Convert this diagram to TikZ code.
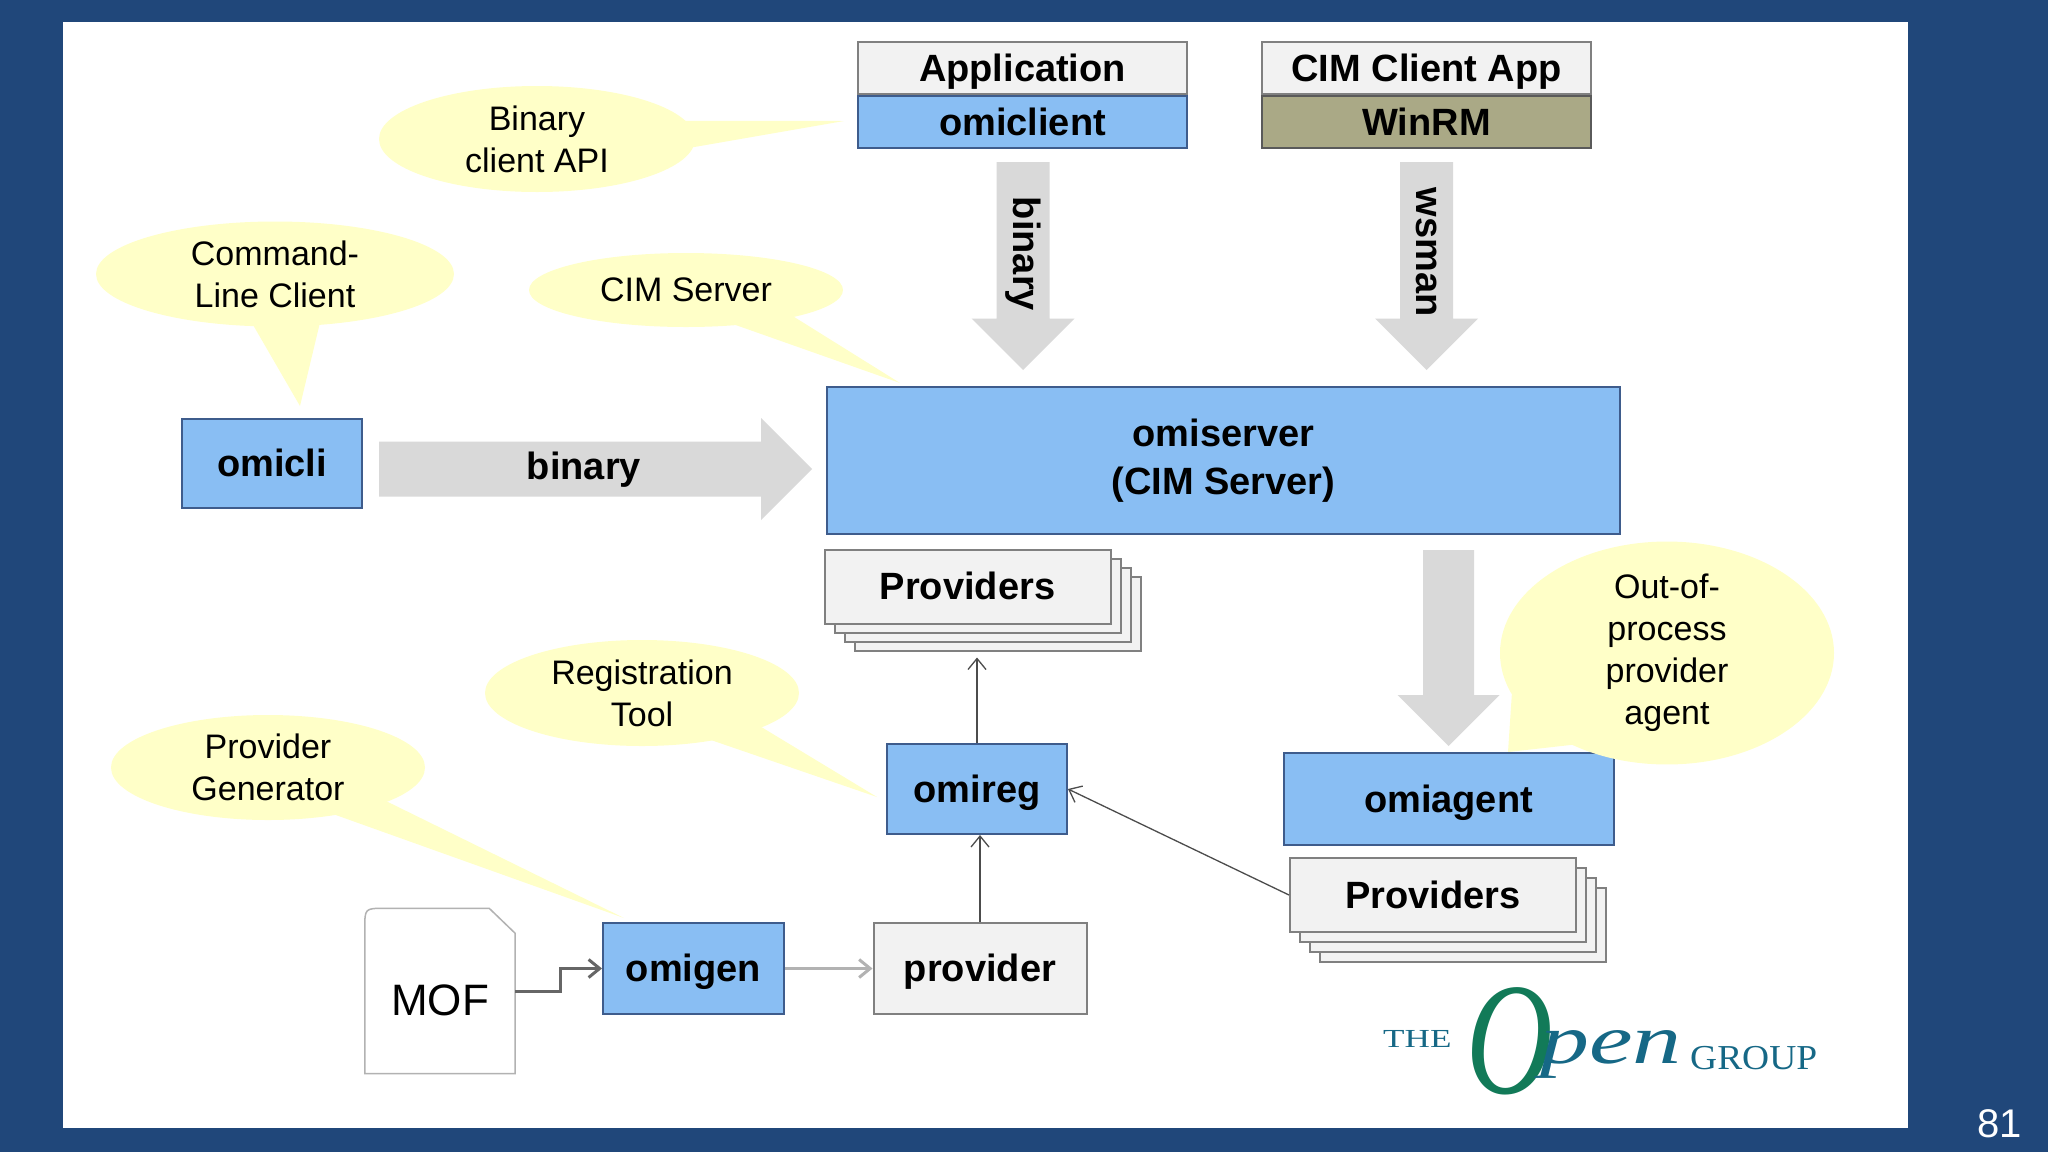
\documentclass[tikz,border=0pt]{standalone}
\usepackage{fontspec}
\setmainfont{Liberation Sans}
\newfontfamily\logofont{Liberation Serif}
\usetikzlibrary{positioning,shapes.geometric,arrows.meta}
\definecolor{slideblue}{RGB}{32,71,122}
\definecolor{boxblue}{RGB}{137,190,243}
\definecolor{boxedge}{RGB}{62,92,140}
\definecolor{boxgrey}{RGB}{242,242,242}
\definecolor{greyedge}{RGB}{128,128,128}
\definecolor{olive}{RGB}{170,169,134}
\definecolor{fatgrey}{RGB}{217,217,217}
\definecolor{bubbleyellow}{RGB}{255,255,200}
\definecolor{logogreen}{RGB}{18,122,88}
\definecolor{logoteal}{RGB}{22,104,134}
\pgfdeclarelayer{panel}
\pgfdeclarelayer{tails}
\pgfsetlayers{panel,tails,main}
\newcommand\boxfont{\fontsize{38}{48}\selectfont\bfseries}
\newcommand\bubblefont{\fontsize{34}{42}\selectfont}
% name, centre, width, height, text, tip, angle, angle
\newcommand\bubble[8]{%
  \node[bubble, minimum width=#3, minimum height=#4] (#1) at (#2) {#5};
  \coordinate (#1tip) at (#6);
  \begin{pgfonlayer}{tails}
    \fill[bubbleyellow] (#1.center) -- (#1.#7) -- (#1tip) -- (#1.#8) -- cycle;
  \end{pgfonlayer}}
% name, tail, direction, length, half shaft, half head
\newcommand\fatarrow[6]{%
  \coordinate (#1) at (#2);
  \fill[fatgrey, shift={(#1)}, rotate=#3] (0,-#5) -- (#4-#6,-#5) -- (#4-#6,-#6) -- (#4,0)
    -- (#4-#6,#6) -- (#4-#6,#5) -- (0,#5) -- cycle;}
\begin{document}
\begin{tikzpicture}[x=1pt,y=-1pt,
  one line/.style={text height=34pt, text depth=8pt},
  bluebox/.style={draw=boxedge, fill=boxblue, line width=2pt, inner sep=0pt, font=\boxfont, align=center},
  bluelabel/.style={bluebox, one line},
  greybox/.style={draw=greyedge, fill=boxgrey, line width=2pt, inner sep=0pt, font=\boxfont, one line},
  olivebox/.style={draw=greyedge!70!black, fill=olive, line width=2pt, inner sep=0pt, font=\boxfont, one line},
  stackbox/.style={greybox, minimum width=286pt, minimum height=74pt},
  bubble/.style={ellipse, fill=bubbleyellow, inner sep=0pt, align=center, font=\bubblefont},
  arrow text/.style={inner sep=0pt, font=\boxfont},
  thin link/.style={->, draw=black!70, line width=1.3pt},
  mof link/.style={->, draw=black!60, line width=3pt},
  gen link/.style={->, draw=black!30, line width=3pt},
  >={Straight Barb[length=11pt,width=18pt]}]

  \useasboundingbox (0,0) rectangle (2048,1152);
  \begin{pgfonlayer}{panel}
    \fill[slideblue] (0,0) rectangle (2048,1152);
    \fill[white] (63,22) rectangle (1908,1128);
  \end{pgfonlayer}

  \node[greybox, minimum width=329pt, minimum height=52pt] (app) at (1022.5,68) {Application};
  \node[bluelabel, minimum width=329pt, minimum height=52pt, below=0pt of app] (omiclient) {omiclient};
  \node[greybox, minimum width=329pt, minimum height=52pt] (cimapp) at (1426.5,68) {CIM Client App};
  \node[olivebox, minimum width=329pt, minimum height=52pt, below=0pt of cimapp] (winrm) {WinRM};

  \node[bluebox, minimum width=793pt, minimum height=147pt] (omiserver) at (1223.5,460.5) {omiserver\\(CIM Server)};
  \node[bluelabel, minimum width=180pt, minimum height=89pt] (omicli) at (272,463.5) {omicli};

  \fatarrow{bindown}{1023,162}{-90}{208}{26.5}{51.5}
  \node[arrow text, rotate=-90] (bindowntext) at (1023,254) {binary};
  \fatarrow{wsdown}{1426.5,162}{-90}{208}{26.5}{51.5}
  \node[arrow text, rotate=-90] (wsdowntext) at (1426.5,252) {wsman};
  \fatarrow{cliarrow}{379,469}{0}{433}{27.5}{51}
  \node[arrow text] (cliarrowtext) at (584,470) {binary};
  \fatarrow{agentdown}{1448.5,550}{-90}{196}{25.5}{51}

  \foreach \k in {3,2,1}
    \node[stackbox] (upper\k) at (967.5+10*\k,586.5+9*\k) {};
  \node[stackbox] (upper) at (967.5,586.5) {Providers};

  \node[bluelabel, minimum width=330pt, minimum height=92pt] (omiagent) at (1448.5,799) {omiagent};
  \foreach \k in {3,2,1}
    \node[stackbox] (lower\k) at (1433+10*\k,895+10*\k) {};
  \node[stackbox] (lower) at (1433,895) {Providers};

  \node[bluelabel, minimum width=180pt, minimum height=90pt] (omireg) at (977,789) {omireg};
  \node[bluelabel, minimum width=181pt, minimum height=91pt] (omigen) at (693.5,968.5) {omigen};
  \node[greybox, minimum width=213pt, minimum height=91pt] (provider) at (980,968.5) {provider};

  \node[minimum width=150pt, minimum height=165pt, inner sep=0pt, text height=48pt, text depth=0pt,
    font=\fontsize{44}{44}\selectfont] (mof) at (440,991) {MOF};
  \draw[draw=black!30, line width=1.5pt] (mof.south west) -- ([yshift=-20pt]mof.north west)
    .. controls (mof.north west) .. ([xshift=20pt]mof.north west)
    -- ([xshift=-26pt]mof.north east) -- ([yshift=-25pt]mof.north east) -- (mof.south east) -- cycle;

  \draw[mof link] (mof.east) -- ++(45,0) |- (omigen.west);
  \draw[gen link] (omigen.east) -- (provider.west);
  \draw[thin link] (provider.north) -- (provider.north |- omireg.south);
  \draw[thin link] (omireg.north) -- ([yshift=-6pt]omireg.north |- upper3.south);
  \draw[thin link] (lower.west) -- (omireg.east);

  \bubble{apibub}{537,139}{316pt}{106pt}{Binary\\client API}{844,121}{7}{357}
  \bubble{clibub}{275,274}{358pt}{105pt}{Command-\\Line Client}{300,406}{248}{311}
  \bubble{serverbub}{686,290}{314pt}{74pt}{CIM Server}{900,383}{325}{346}
  \bubble{regbub}{642,693}{314pt}{106pt}{Registration\\Tool}{877,797}{326}{344}
  \bubble{genbub}{268,767.5}{314pt}{105pt}{Provider\\Generator}{624,918}{325}{344}
  \bubble{agentbub}{1667,653}{334pt}{210pt}{Out-of-\\process\\provider\\agent}{1508,752}{195}{224}

  \node[anchor=base west, inner sep=0pt, text=logoteal] (logothe) at (1383,1047)
    {\scalebox{1.35}[1]{\logofont\fontsize{26}{26}\selectfont THE}};
  \node[anchor=base west, inner sep=0pt, text=logogreen] (logoo) at (1466,1093)
    {\scalebox{1.2}[1.6]{\logofont\itshape\fontsize{100}{100}\selectfont O}};
  \node[anchor=base west, inner sep=0pt, text=logoteal] (logopen) at (1540,1063)
    {\scalebox{1.4}[1]{\logofont\itshape\fontsize{70}{70}\selectfont pen}};
  \node[anchor=base west, inner sep=0pt, text=logoteal] (logogroup) at (1690,1069)
    {\scalebox{1.07}[1]{\logofont\fontsize{35}{35}\selectfont GROUP}};

  \node[anchor=base east, inner sep=0pt, text=white, font=\fontsize{40}{40}\selectfont] (pageno) at (2022,1137) {81};
\end{tikzpicture}
\end{document}
